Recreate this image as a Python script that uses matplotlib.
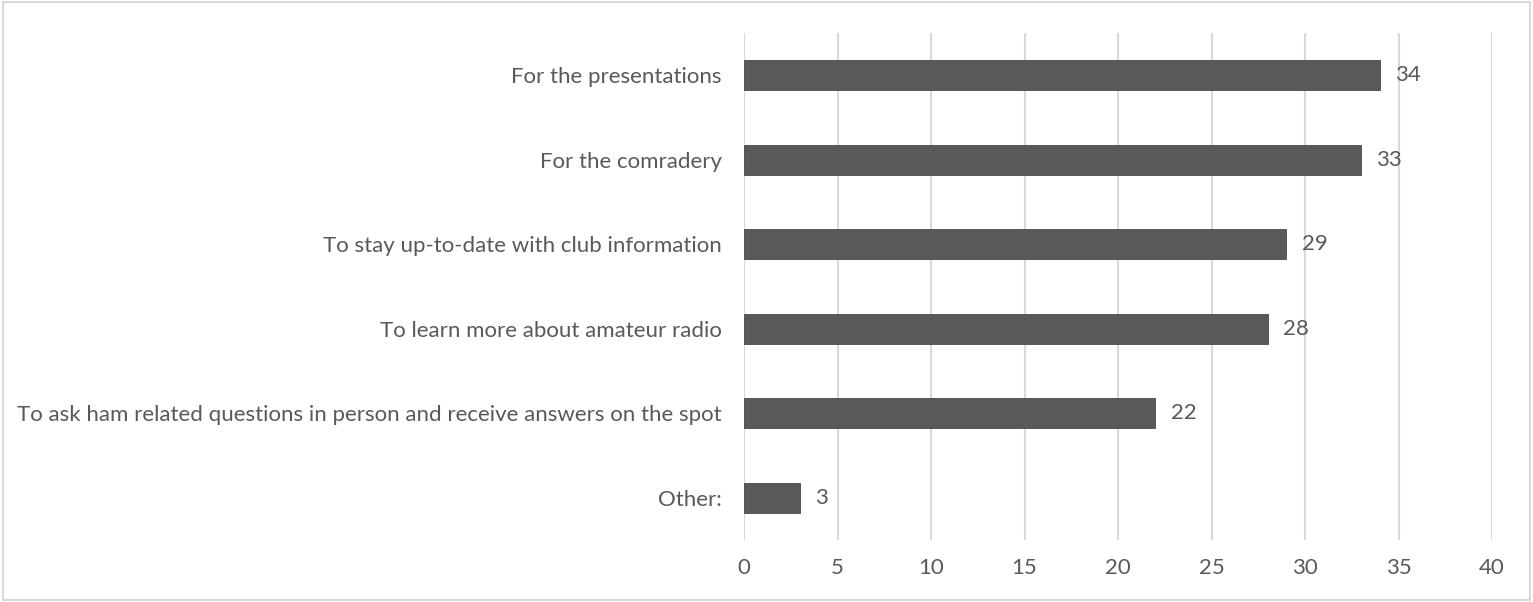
import matplotlib
matplotlib.use("Agg")
import matplotlib.pyplot as plt
from matplotlib.patches import Rectangle

# data (top to bottom as shown)
categorias = [
    "For the presentations",
    "For the comradery",
    "To stay up-to-date with club information",
    "To learn more about amateur radio",
    "To ask ham related questions in person and receive answers on the spot",
    "Other:",
]
valores = [34, 33, 29, 28, 22, 3]
ticks_x = [0, 5, 10, 15, 20, 25, 30, 35, 40]

gris = "#595959"
plt.rcParams["font.family"] = ["Lato", "DejaVu Sans"]

fig = plt.figure(figsize=(15.33, 6.02), dpi=100)
ax = fig.add_axes([744 / 1533, 1 - 540 / 602, 748 / 1533, 507 / 602])

pos = list(range(len(categorias)))[::-1]
ax.barh(pos, valores, height=0.36, color=gris, edgecolor="#4a4a4a", linewidth=0.6, zorder=3)

for y, v in zip(pos, valores):
    ax.annotate(str(v), (v, y), xytext=(11, 0), textcoords="offset points",
                va="center", ha="left", fontsize=16, color=gris)

ax.set_xlim(0, 40)
ax.set_ylim(-0.5, 5.5)
ax.set_xticks(ticks_x)
ax.set_yticks(pos)
ax.set_yticklabels(categorias)
ax.tick_params(axis="both", length=0, labelsize=16, labelcolor=gris)
ax.tick_params(axis="y", pad=16)
ax.tick_params(axis="x", pad=13)
ax.grid(axis="x", color="#d9d9d9", linewidth=1.5, zorder=0)
for s in ax.spines.values():
    s.set_visible(False)

# outer border of the chart area
fig.patches.append(Rectangle((0.002, 0.003), 0.996, 0.994, transform=fig.transFigure,
                             fill=False, edgecolor="#d9d9d9", linewidth=1.5))

fig.savefig("out.png", dpi=100)
